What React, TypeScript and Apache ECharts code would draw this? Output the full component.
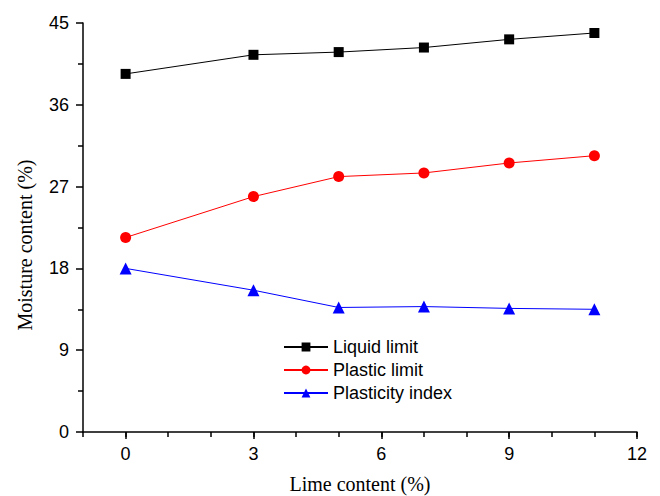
import React, { useEffect, useRef } from "react";
import * as echarts from "echarts";

const limeContent = [0, 3, 5, 7, 9, 11];
const liquidLimit = [39.4, 41.5, 41.8, 42.3, 43.2, 43.9];
const plasticLimit = [21.4, 25.9, 28.1, 28.5, 29.6, 30.4];
const plasticityIndex = [18.0, 15.6, 13.7, 13.8, 13.6, 13.5];

const pair = (vals: number[]) => limeContent.map((x, i) => [x, vals[i]]);

export default function App() {
  const ref = useRef<HTMLDivElement>(null);
  useEffect(() => {
    if (!ref.current) return;
    const chart = echarts.init(ref.current, null, { renderer: "svg" });
    const sans = "'Liberation Sans', Arial, sans-serif";
    const serif = "'Liberation Serif', 'Times New Roman', serif";
    const W = 660;
    const gLeft = 83;
    const gRight = 23;
    const unit = (W - gLeft - gRight) / 13;
    const axisLineStyle = { color: "#000", width: 1.5 };
    chart.setOption({
      animation: false,
      backgroundColor: "#ffffff",
      grid: [
        { left: gLeft, right: gRight, top: 23, bottom: 64, containLabel: false },
        { left: gLeft + unit, right: gRight, top: 23, bottom: 64, containLabel: false },
      ],
      legend: {
        left: 278,
        top: 333,
        orient: "vertical",
        itemWidth: 44,
        itemHeight: 11,
        itemGap: 5,
        textStyle: { fontFamily: sans, fontSize: 18, color: "#000", lineHeight: 18 },
        data: ["Liquid limit", "Plastic limit", "Plasticity index"],
      },
      xAxis: [
        {
          type: "value",
          gridIndex: 0,
          min: -1,
          max: 12,
          interval: 1,
          axisLine: { show: true, onZero: false, lineStyle: axisLineStyle },
          axisTick: { show: true, inside: false, length: 5, lineStyle: axisLineStyle },
          axisLabel: { show: false },
          splitLine: { show: false },
        },
        {
          type: "value",
          gridIndex: 1,
          min: 0,
          max: 12,
          interval: 3,
          axisLine: { show: false, onZero: false },
          axisTick: { show: true, inside: false, length: 7, lineStyle: axisLineStyle },
          axisLabel: { margin: 13, fontFamily: sans, fontSize: 18, color: "#000" },
          splitLine: { show: false },
        },
      ],
      yAxis: [
        {
          type: "value",
          gridIndex: 0,
          min: 0,
          max: 45,
          interval: 9,
          axisLine: { show: true, onZero: false, lineStyle: axisLineStyle },
          axisTick: { show: true, inside: false, length: 7, lineStyle: axisLineStyle },
          minorTick: { show: true, splitNumber: 2, length: 5, lineStyle: axisLineStyle },
          axisLabel: { margin: 14, fontFamily: sans, fontSize: 18, color: "#000" },
          splitLine: { show: false },
        },
        {
          type: "value",
          gridIndex: 1,
          min: 0,
          max: 45,
          show: false,
        },
      ],
      graphic: [
        {
          type: "text",
          x: 360,
          y: 484,
          style: { text: "Lime content (%)", font: `20px ${serif}`, fill: "#000", textAlign: "center", textVerticalAlign: "middle" },
        },
        {
          type: "text",
          x: 25,
          y: 245,
          rotation: Math.PI / 2,
          style: { text: "Moisture content (%)", font: `20px ${serif}`, fill: "#000", textAlign: "center", textVerticalAlign: "middle" },
        },
      ],
      series: [
        {
          name: "Liquid limit",
          type: "line",
          xAxisIndex: 0,
          yAxisIndex: 0,
          data: pair(liquidLimit),
          symbol: "rect",
          symbolSize: 10,
          itemStyle: { color: "#000" },
          lineStyle: { color: "#000", width: 1 },
        },
        {
          name: "Plastic limit",
          type: "line",
          xAxisIndex: 0,
          yAxisIndex: 0,
          data: pair(plasticLimit),
          symbol: "circle",
          symbolSize: 11,
          itemStyle: { color: "#ff0000" },
          lineStyle: { color: "#ff0000", width: 1 },
        },
        {
          name: "Plasticity index",
          type: "line",
          xAxisIndex: 0,
          yAxisIndex: 0,
          data: pair(plasticityIndex),
          symbol: "triangle",
          symbolSize: 12,
          itemStyle: { color: "#0000ff" },
          lineStyle: { color: "#0000ff", width: 1 },
        },
      ],
    });
    return () => chart.dispose();
  }, []);
  return (
    <div style={{ position: "fixed", left: 0, top: 0, width: 660, height: 496, background: "#fff" }}>
      <div ref={ref} style={{ width: 660, height: 496 }} />
    </div>
  );
}
